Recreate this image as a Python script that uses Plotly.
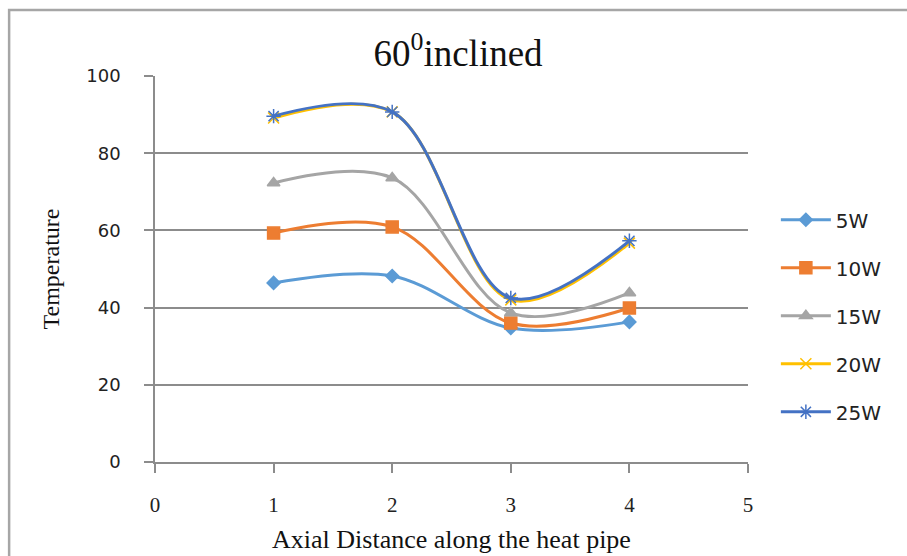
import plotly.graph_objects as go

# Axial measurement positions along the heat pipe
positions = [1, 2, 3, 4]

# Temperature readings for each heat input
series_names = ["5W", "10W", "15W", "20W", "25W"]
temp_5w = [46.4, 48.2, 34.7, 36.3]
temp_10w = [59.3, 60.9, 36.0, 39.9]
temp_15w = [72.3, 73.6, 38.6, 43.8]
temp_20w = [89.1, 90.7, 42.0, 56.7]
temp_25w = [89.6, 90.7, 42.5, 57.3]

x_ticks = [0, 1, 2, 3, 4, 5]
y_ticks = [0, 20, 40, 60, 80, 100]

series_values = [temp_5w, temp_10w, temp_15w, temp_20w, temp_25w]
colors = ["#5B9BD5", "#ED7D31", "#A5A5A5", "#FFC000", "#4472C4"]
symbols = ["diamond", "square", "triangle-up", "x-thin-open", "asterisk-open"]
sizes = [10, 12, 11, 11, 12]

fig = go.Figure()
for i, (name, vals) in enumerate(zip(series_names, series_values)):
    fig.add_trace(go.Scatter(
        x=positions, y=vals, name=name, mode="lines+markers",
        line=dict(color=colors[i], width=3, shape="spline", smoothing=1.0),
        marker=dict(symbol=symbols[i], size=sizes[i], color=colors[i],
                    line=dict(color=colors[i], width=1.5)),
        legendgroup=name,
    ))

grid_col = "#8C8C8C"
fig.update_xaxes(
    range=[0, 5], tickvals=x_ticks, ticktext=[str(v) for v in x_ticks],
    showgrid=False, zeroline=False, showline=True, linecolor=grid_col, linewidth=1.5,
    ticks="outside", ticklen=9, tickcolor=grid_col, tickwidth=1.5,
    ticklabelstandoff=14, automargin=False,
    tickfont=dict(family="Liberation Serif", size=21, color="#222"),
    title=dict(text="Axial Distance along the heat pipe",
               font=dict(family="Liberation Serif", size=26, color="#111"), standoff=14),
)
fig.update_yaxes(
    range=[0, 100], tickvals=y_ticks,
    showgrid=True, gridcolor=grid_col, gridwidth=1.5,
    zeroline=False, showline=True, linecolor=grid_col, linewidth=1.5,
    ticks="outside", ticklen=9, tickcolor=grid_col, tickwidth=1.5,
    ticklabelstandoff=20, automargin=False,
    tickfont=dict(family="DejaVu Sans", size=18, color="#222"),
    title=dict(text="Temperature",
               font=dict(family="Liberation Serif", size=24, color="#111"), standoff=20),
)

fig.update_layout(
    width=907, height=556,
    margin=dict(l=155, r=159, t=76, b=94),
    paper_bgcolor="white", plot_bgcolor="white",
    title=dict(text="60<sup>0</sup>inclined", x=0.505, xanchor="center", y=0.905, yanchor="middle",
               font=dict(family="Liberation Serif", size=37, color="#111")),
    legend=dict(x=1.047, y=0.678, xanchor="left", yanchor="top",
                font=dict(family="DejaVu Sans", size=20, color="#222"),
                tracegroupgap=19, itemwidth=50, bgcolor="rgba(0,0,0,0)"),
    showlegend=True,
    shapes=[dict(type="rect", xref="paper", yref="paper",
                 x0=-0.246, x1=1.4, y0=-0.4, y1=1.171,
                 line=dict(color="#A6A6A6", width=2.5), layer="below")],
)

fig.write_html("out.html")
